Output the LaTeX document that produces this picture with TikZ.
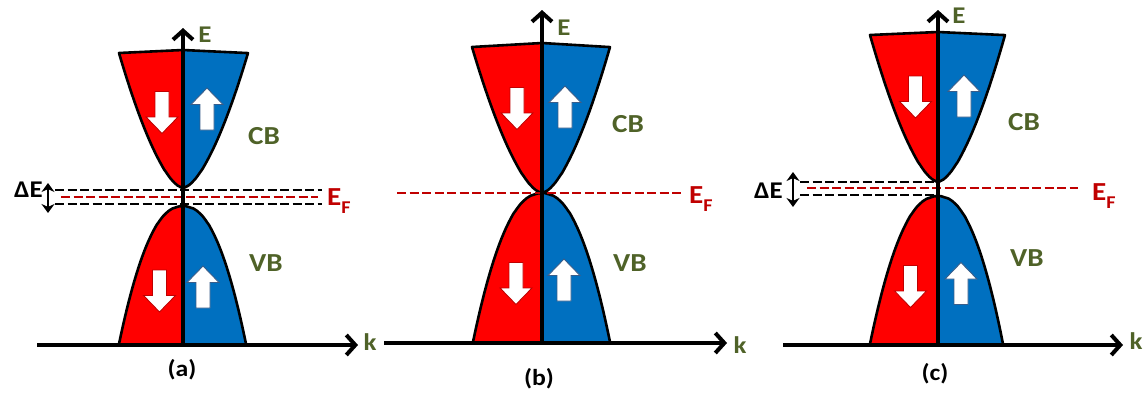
\documentclass[tikz,border=0pt]{standalone}
\usepackage{fontspec}
\setmainfont{Carlito}[FakeStretch=1.12]
\usetikzlibrary{arrows.meta}
\definecolor{bandred}{RGB}{255,0,0}
\definecolor{bandblue}{RGB}{0,112,192}
\definecolor{lblgreen}{RGB}{79,98,40}
\definecolor{efred}{RGB}{192,0,0}
\definecolor{uparrline}{RGB}{56,93,138}
\definecolor{dnarrline}{RGB}{192,0,0}
\newcommand{\EFtext}{E\raisebox{-8pt}{\fontsize{18}{18}\selectfont F}}
\tikzset{
  outline/.style={draw=black, line width=2.6pt, line join=round},
  axis/.style={line width=4pt, -{Straight Barb[length=9pt,width=20pt]}},
  dashblack/.style={draw=black, line width=2.6pt, dash pattern=on 9pt off 3.5pt},
  dashred/.style={draw=efred, line width=2.6pt, dash pattern=on 9pt off 3.5pt},
  dblarrow/.style={line width=2.6pt, {Stealth[length=9pt,width=13pt]}-{Stealth[length=9pt,width=13pt]}},
  bandlbl/.style={text=lblgreen, font=\bfseries\fontsize{26}{26}\selectfont, inner sep=0pt},
  axlbl/.style={text=lblgreen, font=\bfseries\fontsize{24}{24}\selectfont, inner sep=0pt},
  eflbl/.style={text=efred, font=\bfseries\fontsize{26}{26}\selectfont, inner sep=0pt, anchor=base west},
  delbl/.style={text=black, font=\bfseries\fontsize{24}{24}\selectfont, inner sep=0pt, anchor=base east},
  panellbl/.style={text=black, font=\bfseries\fontsize{23}{23}\selectfont, inner sep=0pt},
  cbplot/.style={domain=0.001:1, samples=60},
  dnarr/.pic={\draw[draw=dnarrline, fill=white, line width=0.9pt]
     (-7,-21) -- (7,-21) -- (7,4.5) -- (16,4.5) -- (0,21) -- (-16,4.5) -- (-7,4.5) -- cycle;},
  uparr/.pic={\draw[draw=uparrline, fill=white, line width=0.9pt]
     (-7,21) -- (7,21) -- (7,-4.5) -- (16,-4.5) -- (0,-21) -- (-16,-4.5) -- (-7,-4.5) -- cycle;},
}
\begin{document}
\begin{tikzpicture}[x=1pt,y=-1pt]
\useasboundingbox (0,0) rectangle (1144,394);

% ---------------- panel (a) ----------------
\coordinate (a-o) at (183,345);
\coordinate (a-top) at (183,28);
\coordinate (a-kl) at (37,345);
\coordinate (a-kr) at (358,345);
\fill[bandred]  (183,50) -- (183,188) -- plot[cbplot] ({183-64*\x^0.62},{188-135*\x}) -- cycle;
\fill[bandblue] (183,50) -- (183,188) -- plot[cbplot] ({183+65*\x^0.62},{188-135*\x}) -- cycle;
\draw[outline] plot[domain=1:0.001,samples=60] ({183-64*\x^0.62},{188-135*\x}) -- plot[cbplot] ({183+65*\x^0.62},{188-135*\x}) -- (183,50) -- cycle;
\fill[bandred]  (183,344) -- (183,206) -- plot[cbplot] ({183-64*\x^0.45},{206+138*\x}) -- cycle;
\fill[bandblue] (183,344) -- (183,206) -- plot[cbplot] ({183+63*\x^0.45},{206+138*\x}) -- cycle;
\draw[outline] plot[domain=1:0.001,samples=60] ({183-64*\x^0.45},{206+138*\x}) -- plot[cbplot] ({183+63*\x^0.45},{206+138*\x});
\coordinate (a-d1l) at (55,190);  \coordinate (a-d1r) at (322,190);
\coordinate (a-d2l) at (55,204);  \coordinate (a-d2r) at (322,204);
\coordinate (a-efl) at (61,197);  \coordinate (a-efr) at (318,197);
\draw[dashblack] (a-d1l) -- (a-d1r);
\draw[dashblack] (a-d2l) -- (a-d2r);
\draw[dashred] (a-efl) -- (a-efr);
\coordinate (a-det) at (48,183); \coordinate (a-deb) at (48,213);
\draw[dblarrow] (a-det) -- (a-deb);
\draw[axis] (a-o) -- (a-top);
\draw[axis] (a-kl) -- (a-kr);
\pic (a-cbdn) at (162,112.5) {dnarr};
\pic (a-cbup) at (207,109) {uparr};
\pic (a-vbdn) at (159.5,291) {dnarr};
\pic (a-vbup) at (203,287) {uparr};
\node[axlbl] (a-E) at (205,35) {E};
\node[axlbl] (a-k) at (370,342) {k};
\node[bandlbl] (a-CB) at (264,136) {CB};
\node[bandlbl] (a-VB) at (266,263) {VB};
\node[eflbl] (a-EF) at (327,205) {\EFtext};
\node[delbl] (a-dE) at (43,197) {ΔE};
\node[panellbl] (a-lbl) at (182,370) {(a)};

% ---------------- panel (b) ----------------
\coordinate (b-o) at (542,343);
\coordinate (b-top) at (542,10);
\coordinate (b-kl) at (384,343);
\coordinate (b-kr) at (727,343);
\fill[bandred]  (542,43) -- (542,193) -- plot[cbplot] ({542-70*\x^0.62},{193-146*\x}) -- cycle;
\fill[bandblue] (542,43) -- (542,193) -- plot[cbplot] ({542+68*\x^0.62},{193-146*\x}) -- cycle;
\draw[outline] plot[domain=1:0.001,samples=60] ({542-70*\x^0.62},{193-146*\x}) -- plot[cbplot] ({542+68*\x^0.62},{193-146*\x}) -- (542,43) -- cycle;
\fill[bandred]  (542,342) -- (542,193) -- plot[cbplot] ({542-69*\x^0.45},{193+149*\x}) -- cycle;
\fill[bandblue] (542,342) -- (542,193) -- plot[cbplot] ({542+68*\x^0.45},{193+149*\x}) -- cycle;
\draw[outline] plot[domain=1:0.001,samples=60] ({542-69*\x^0.45},{193+149*\x}) -- plot[cbplot] ({542+68*\x^0.45},{193+149*\x});
\coordinate (b-efl) at (397,193);  \coordinate (b-efr) at (682,193);
\draw[dashred] (b-efl) -- (b-efr);
\draw[axis] (b-o) -- (b-top);
\draw[axis] (b-kl) -- (b-kr);
\pic (b-cbdn) at (517,108.5) {dnarr};
\pic (b-cbup) at (565,107) {uparr};
\pic (b-vbdn) at (516,283.5) {dnarr};
\pic (b-vbup) at (564,280) {uparr};
\node[axlbl] (b-E) at (564,27.5) {E};
\node[axlbl] (b-k) at (740,345) {k};
\node[bandlbl] (b-CB) at (628,124) {CB};
\node[bandlbl] (b-VB) at (630,263) {VB};
\node[eflbl] (b-EF) at (689,203) {\EFtext};
\node[panellbl] (b-lbl) at (539,379) {(b)};

% ---------------- panel (c) ----------------
\coordinate (c-o) at (938,345);
\coordinate (c-top) at (938,10);
\coordinate (c-kl) at (783,345);
\coordinate (c-kr) at (1123,345);
\fill[bandred]  (938,32) -- (938,182) -- plot[cbplot] ({938-68*\x^0.62},{182-147*\x}) -- cycle;
\fill[bandblue] (938,32) -- (938,182) -- plot[cbplot] ({938+67*\x^0.62},{182-147*\x}) -- cycle;
\draw[outline] plot[domain=1:0.001,samples=60] ({938-68*\x^0.62},{182-147*\x}) -- plot[cbplot] ({938+67*\x^0.62},{182-147*\x}) -- (938,32) -- cycle;
\fill[bandred]  (938,344) -- (938,196) -- plot[cbplot] ({938-68*\x^0.45},{196+148*\x}) -- cycle;
\fill[bandblue] (938,344) -- (938,196) -- plot[cbplot] ({938+65*\x^0.45},{196+148*\x}) -- cycle;
\draw[outline] plot[domain=1:0.001,samples=60] ({938-68*\x^0.45},{196+148*\x}) -- plot[cbplot] ({938+65*\x^0.45},{196+148*\x});
\coordinate (c-d1l) at (800,182);  \coordinate (c-d1r) at (934,182);
\coordinate (c-d2l) at (800,195);  \coordinate (c-d2r) at (934,195);
\coordinate (c-efl) at (807,188);  \coordinate (c-efr) at (1078,188);
\draw[dashblack] (c-d1l) -- (c-d1r);
\draw[dashblack] (c-d2l) -- (c-d2r);
\draw[dashred] (c-efl) -- (c-efr);
\coordinate (c-det) at (793,172); \coordinate (c-deb) at (793,207);
\draw[dblarrow] (c-det) -- (c-deb);
\draw[axis] (c-o) -- (c-top);
\draw[axis] (c-kl) -- (c-kr);
\pic (c-cbdn) at (915.5,97) {dnarr};
\pic (c-cbup) at (964,96) {uparr};
\pic (c-vbdn) at (910.5,286.5) {dnarr};
\pic (c-vbup) at (961,283.5) {uparr};
\node[axlbl] (c-E) at (959,16) {E};
\node[axlbl] (c-k) at (1136,341) {k};
\node[bandlbl] (c-CB) at (1024,122) {CB};
\node[bandlbl] (c-VB) at (1027,258) {VB};
\node[eflbl] (c-EF) at (1092,200) {\EFtext};
\node[delbl] (c-dE) at (783,198) {ΔE};
\node[panellbl] (c-lbl) at (935,374) {(c)};
\end{tikzpicture}
\end{document}
